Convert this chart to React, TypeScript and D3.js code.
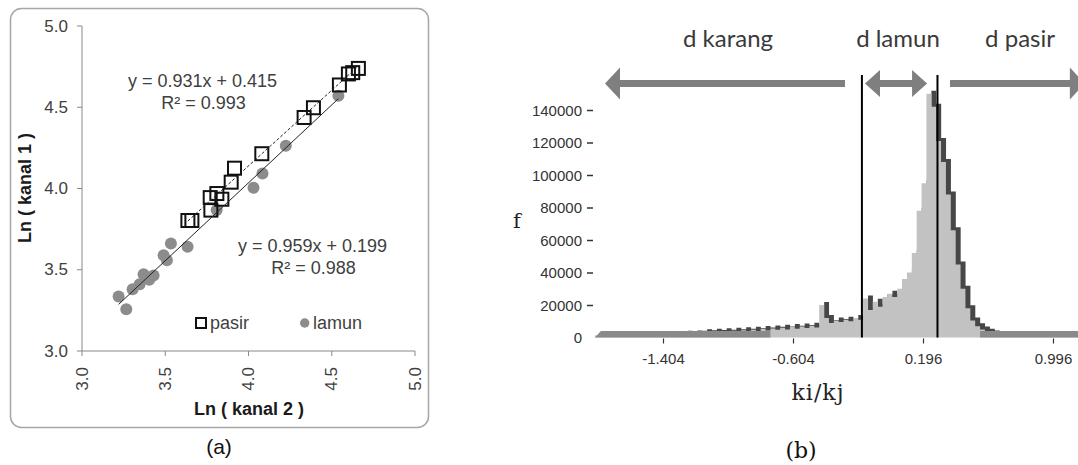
import React from 'react';
import * as d3 from 'd3';

// ---------- Panel (a) data ----------
const pasirX = [4.66, 4.626, 4.6, 4.546, 4.39, 4.334, 4.08, 3.916, 3.896, 3.84, 3.81, 3.77, 3.774, 3.66, 3.636];
const pasirY = [4.739, 4.713, 4.705, 4.637, 4.497, 4.437, 4.214, 4.125, 4.039, 3.934, 3.969, 3.944, 3.867, 3.803, 3.803];
const lamunX = [4.54, 4.224, 4.084, 4.03, 3.809, 3.534, 3.634, 3.49, 3.51, 3.43, 3.37, 3.404, 3.346, 3.304, 3.22, 3.266];
const lamunY = [4.571, 4.263, 4.092, 4.004, 3.868, 3.661, 3.642, 3.589, 3.558, 3.464, 3.472, 3.439, 3.411, 3.38, 3.335, 3.257];
const pasirFit = { slope: 0.931, intercept: 0.415, r2: '0.993' };
const lamunFit = { slope: 0.959, intercept: 0.199, r2: '0.988' };
const axisTicksA = [3.0, 3.5, 4.0, 4.5, 5.0];

// ---------- Panel (b) data ----------
const histStart = -1.826;
const binWidth = 0.03;
const freq = [
  1400, 1500, 1500, 1600, 1500, 1600, 1700, 1600, 1800, 1700, 1900, 1800, 2000, 1900, 2100, 2000, 2200, 2100, 2300, 2200, 2500, 2300,
  3200, 2600, 3500, 2800, 3800, 3000, 4200, 3300, 4500, 3600, 4800, 3900, 5200,
  4300, 5600, 4700, 6000, 5000, 6400, 5400, 6800, 5800, 7200, 6200,
  20000, 12000,
  9000, 10500, 9500, 11000, 10000, 12000, 11000,
  24000, 17000, 22000, 19000, 25000, 27000, 25000, 30000, 36000, 40000, 52000, 78000, 95000, 150000, 142000, 121000, 108000, 88000, 66000, 45000, 30000, 18000, 10500, 7000, 5000, 3500, 2500,
  1800, 1500, 1300, 1200, 1100, 1000, 1000, 900, 900, 800, 800, 800, 700, 700, 700, 600, 600, 600,
];
const floorLimit = 5500;
const fTicks = [0, 20000, 40000, 60000, 80000, 100000, 120000, 140000];
const kTicks = [-1.404, -0.604, 0.196, 0.996];
const boundaries = [-0.183, 0.282];
const zoneLabels = ['d karang', 'd lamun', 'd pasir'];
const zoneLabelX = [-1.007, 0.039, 0.79];
const zoneArrows = [
  { from: -1.764, to: -0.287, left: true, right: false },
  { from: -0.164, to: 0.218, left: true, right: true },
  { from: 0.359, to: 1.189, left: false, right: true },
];

const SANS = "'Liberation Sans', Arial, sans-serif";
const SERIF = "'DejaVu Serif', 'Liberation Serif', serif";

function arrowPath(xa: number, xb: number, y: number, headA: boolean, headB: boolean, hl: number, hh: number, sh: number) {
  const pts: [number, number][] = [];
  if (headA) {
    pts.push([xa, y], [xa + hl, y - hh], [xa + hl, y - sh]);
  } else {
    pts.push([xa, y + sh], [xa, y - sh]);
  }
  if (headB) {
    pts.push([xb - hl, y - sh], [xb - hl, y - hh], [xb, y], [xb - hl, y + hh], [xb - hl, y + sh]);
  } else {
    pts.push([xb, y - sh], [xb, y + sh]);
  }
  if (headA) {
    pts.push([xa + hl, y + sh], [xa + hl, y + hh]);
  }
  return 'M' + pts.map((p) => p.join(',')).join('L') + 'Z';
}

export default function App() {
  const xa = d3.scaleLinear().domain([3, 5]).range([82, 415]);
  const ya = d3.scaleLinear().domain([3, 5]).range([351, 26]);

  const pasir = pasirX.map((x, i) => ({ x, y: pasirY[i] }));
  const lamun = lamunX.map((x, i) => ({ x, y: lamunY[i] }));
  const pMin = d3.min(pasirX)!, pMax = d3.max(pasirX)!;
  const lMin = d3.min(lamunX)!, lMax = d3.max(lamunX)!;
  const line = d3.line<[number, number]>().x((d) => xa(d[0])).y((d) => ya(d[1]));
  const pasirLine = line([[pMin, pasirFit.slope * pMin + pasirFit.intercept], [pMax, pasirFit.slope * pMax + pasirFit.intercept]]);
  const lamunLine = line([[lMin, lamunFit.slope * lMin + lamunFit.intercept], [lMax, lamunFit.slope * lMax + lamunFit.intercept]]);

  const xb = d3.scaleLinear().domain([-1.404, 0.996]).range([663.5, 1053.5]);
  const yb = d3.scaleLinear().domain([0, 140000]).range([337.5, 110]);
  const bins = freq.map((f, i) => ({ x: histStart + i * binWidth, f }));
  bins.push({ x: histStart + freq.length * binWidth, f: freq[freq.length - 1] });
  const area = d3
    .area<{ x: number; f: number }>()
    .x((d) => xb(d.x))
    .y0(yb(0))
    .y1((d) => yb(d.f))
    .curve(d3.curveStepAfter);
  const histPath = area(bins) || '';
  const base = yb(0);
  const arrowY = 83.5;

  // floor band: contiguous low-count tails on both sides
  const leftEnd = freq.findIndex((f) => f >= floorLimit);
  let lastHigh = 0;
  freq.forEach((f, i) => { if (f >= floorLimit) lastHigh = i; });
  const bx = (i: number) => xb(histStart + i * binWidth);
  const bandTop = base - 6.5;
  const leftBand = `M${bx(0)},${base}L${bx(0) + 6},${bandTop}L${bx(leftEnd)},${bandTop}L${bx(leftEnd)},${base}Z`;
  const rightBand = `M${bx(lastHigh + 1)},${base}L${bx(lastHigh + 1)},${bandTop}L1078,${bandTop}L1078,${base}Z`;

  return (
    <svg width={1078} height={465} style={{ position: 'absolute', left: 0, top: 0, background: '#fff' }}>
      {/* ================= Panel (a) ================= */}
      <rect x={10.5} y={8.5} width={418} height={419} rx={11} fill="#fff" stroke="#a6a6a6" strokeWidth={1.5} />
      <line x1={xa(3)} x2={xa(3)} y1={ya(5)} y2={ya(3)} stroke="#888" strokeWidth={1} />
      <line x1={xa(3)} x2={xa(5)} y1={ya(3)} y2={ya(3)} stroke="#888" strokeWidth={1} />
      {axisTicksA.map((t) => (
        <g key={'ya' + t}>
          <line x1={xa(3) - 5} x2={xa(3)} y1={ya(t)} y2={ya(t)} stroke="#888" />
          <text x={68} y={ya(t)} dominantBaseline="central" textAnchor="end" fontFamily={SANS} fontSize={17} fill="#404040">
            {t.toFixed(1)}
          </text>
        </g>
      ))}
      {axisTicksA.map((t) => (
        <g key={'xa' + t}>
          <line x1={xa(t)} x2={xa(t)} y1={ya(3)} y2={ya(3) + 5} stroke="#888" />
          <text
            transform={`translate(${xa(t)},${367}) rotate(-90)`}
            dominantBaseline="central"
            textAnchor="end"
            fontFamily={SANS}
            fontSize={17}
            fill="#404040"
          >
            {t.toFixed(1)}
          </text>
        </g>
      ))}
      <text x={249} y={415} textAnchor="middle" fontFamily={SANS} fontSize={18} fontWeight="bold" fill="#1a1a1a">
        Ln ( kanal 2 )
      </text>
      <text transform="translate(25,188) rotate(-90)" textAnchor="middle" dominantBaseline="central" fontFamily={SANS} fontSize={18} fontWeight="bold" fill="#1a1a1a">
        Ln ( kanal 1 )
      </text>
      {lamun.map((d, i) => (
        <circle key={'l' + i} cx={xa(d.x)} cy={ya(d.y)} r={6} fill="#8c8c8c" />
      ))}
      {pasir.map((d, i) => (
        <rect key={'p' + i} x={xa(d.x) - 6.5} y={ya(d.y) - 6.5} width={13} height={13} fill="none" stroke="#111" strokeWidth={2} />
      ))}
      <path d={lamunLine || ''} stroke="#222" strokeWidth={1} fill="none" />
      <path d={pasirLine || ''} stroke="#222" strokeWidth={1} strokeDasharray="3,2" fill="none" />
      <text x={202.5} y={87} textAnchor="middle" fontFamily={SANS} fontSize={18} fill="#404040">
        {`y = ${pasirFit.slope}x + ${pasirFit.intercept}`}
      </text>
      <text x={203.5} y={109} textAnchor="middle" fontFamily={SANS} fontSize={18} fill="#404040">
        {`R² = ${pasirFit.r2}`}
      </text>
      <text x={312.5} y={252} textAnchor="middle" fontFamily={SANS} fontSize={18} fill="#404040">
        {`y = ${lamunFit.slope}x + ${lamunFit.intercept}`}
      </text>
      <text x={313.5} y={274} textAnchor="middle" fontFamily={SANS} fontSize={18} fill="#404040">
        {`R² = ${lamunFit.r2}`}
      </text>
      <rect x={196} y={318} width={10} height={10} fill="none" stroke="#111" strokeWidth={2} />
      <text x={210} y={329} fontFamily={SANS} fontSize={18} fill="#404040">pasir</text>
      <circle cx={304.7} cy={323} r={4.7} fill="#8c8c8c" />
      <text x={313} y={329} fontFamily={SANS} fontSize={18} fill="#404040">lamun</text>
      <text x={219} y={454} textAnchor="middle" fontFamily={SANS} fontSize={21} fill="#111">(a)</text>

      {/* ================= Panel (b) ================= */}
      <path d={histPath} fill="#474747" transform="translate(5,-3)" />
      <path d={histPath} fill="#c2c2c2" />
      <path d={leftBand} fill="#8a8a8a" />
      <path d={rightBand} fill="#8a8a8a" />
      {fTicks.map((t) => (
        <g key={'fb' + t}>
          <text x={582} y={yb(t)} textAnchor="end" dominantBaseline="central" fontFamily={SANS} fontSize={15} fill="#333">
            {t}
          </text>
          {t > 0 && <line x1={587} x2={593} y1={yb(t) + 0.5} y2={yb(t) + 0.5} stroke="#333" strokeWidth={1.5} />}
        </g>
      ))}
      <text x={517} y={228} textAnchor="middle" fontFamily={SERIF} fontSize={21} fill="#222">f</text>
      {kTicks.map((t) => (
        <g key={'kb' + t}>
          <line x1={xb(t)} x2={xb(t)} y1={base + 1} y2={base + 6} stroke="#333" strokeWidth={1.2} />
          <text x={xb(t)} y={364} textAnchor="middle" fontFamily={SANS} fontSize={15} fill="#333">
            {t.toFixed(3)}
          </text>
        </g>
      ))}
      <text x={818} y={400} textAnchor="middle" fontFamily={SERIF} fontSize={22} letterSpacing={1} fill="#222">ki/kj</text>
      <text x={801} y={458} textAnchor="middle" fontFamily={SERIF} fontSize={22} fill="#111">(b)</text>
      {boundaries.map((b) => (
        <line key={'bd' + b} x1={xb(b)} x2={xb(b)} y1={75} y2={base} stroke="#000" strokeWidth={2} />
      ))}
      {zoneArrows.map((a, i) => (
        <path
          key={'ar' + i}
          d={arrowPath(xb(a.from), xb(a.to), arrowY, a.left, a.right, 15, i === 1 ? 13.5 : 16, 3.5)}
          fill="#7f7f7f"
        />
      ))}
      {zoneLabels.map((l, i) => (
        <text key={'zl' + i} x={xb(zoneLabelX[i])} y={47} textAnchor="middle" fontFamily="Lato, 'Liberation Sans', sans-serif" fontSize={24} fill="#3a3a3a">
          {l}
        </text>
      ))}
    </svg>
  );
}
